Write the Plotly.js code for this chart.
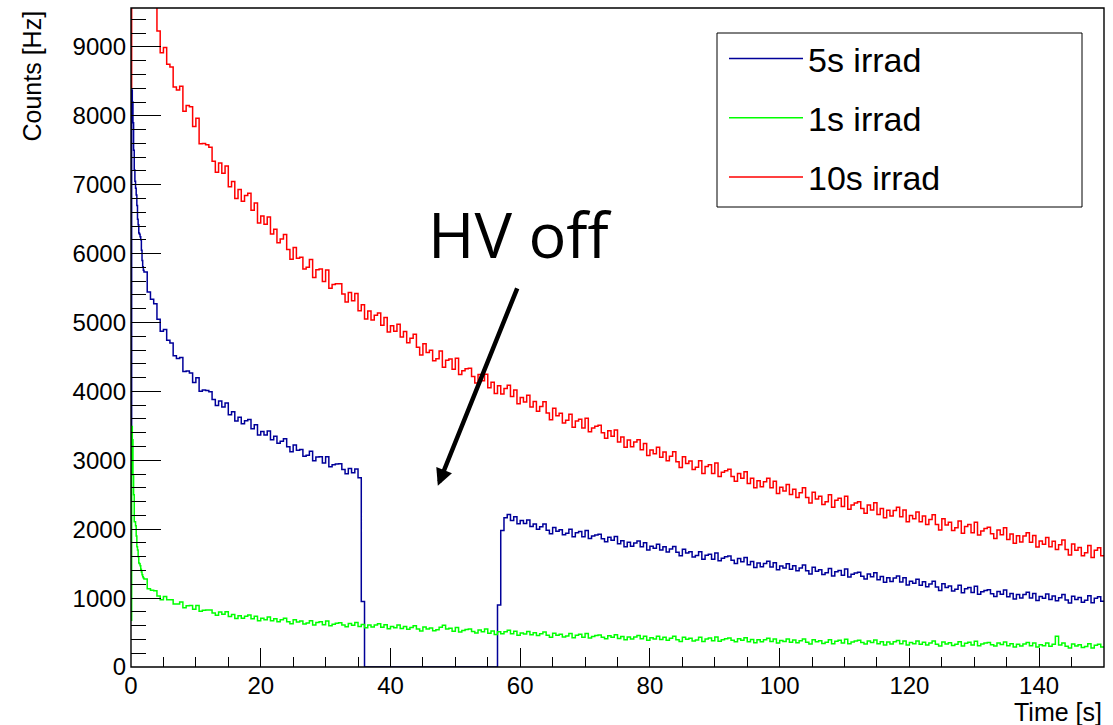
<!DOCTYPE html>
<html>
<head>
<meta charset="utf-8">
<script src="https://cdn.plot.ly/plotly-3.0.1.min.js"></script>
<style>
  html, body { margin: 0; padding: 0; background: #fff; }
  #chart { width: 1113px; height: 725px; }
</style>
</head>
<body>
<div id="chart"></div>
<script>
// ---- bin grid (s): fine bins for the first 2 s, then 0.5 s bins ----
const headStep = 0.1, headBins = 20, mainStart = 2.0, mainStep = 0.5, mainBins = 296, timeEnd = 150;

// ---- series names ----
const seriesNames = ["5s irrad", "1s irrad", "10s irrad"];
const seriesColors = ["#000099", "#00ff00", "#ff0000"];

// ---- 5 s irradiation (Hz) ----
const counts5s = [
  // 0.0 - 1.9 s (0.1 s bins)
  3450, 8375, 8200, 7900, 7500, 7215, 7050, 6950, 6850, 6700,
  6500, 6420, 6300, 6280, 6245, 6200, 6050, 5900, 5810, 5760,
  // 2.0 s onward (0.5 s bins)
  5732, 5444, 5338, 5272, 5048, 4872, 4898, 4744, 4704, 4516,
  4476, 4494, 4288, 4296, 4268, 4130, 4198, 4004, 4020, 4012,
  3996, 3884, 3796, 3860, 3772, 3830, 3662, 3704, 3570, 3626,
  3532, 3574, 3592, 3458, 3516, 3368, 3418, 3366, 3424, 3300,
  3348, 3246, 3277, 3313, 3197, 3123, 3222, 3146, 3156, 3059,
  3074, 3131, 2992, 3049, 3052, 2960, 3052, 2906, 2935, 2948,
  2949, 2866, 2804, 2880, 2818, 2875, 2748, 950, 0, 0,
  0, 0, 0, 0, 0, 0, 0, 0, 0, 0,
  0, 0, 0, 0, 0, 0, 0, 0, 0, 0,
  0, 0, 0, 0, 0, 0, 0, 0, 0, 0,
  0, 0, 0, 0, 0, 0, 0, 0, 0, 900,
  1980, 2168, 2214, 2126, 2182, 2081, 2126, 2082, 2133, 2040,
  2074, 1998, 2036, 2074, 1986, 1934, 2026, 1970, 1993, 1920,
  1942, 2000, 1891, 1950, 1966, 1892, 1981, 1866, 1900, 1917,
  1927, 1863, 1817, 1885, 1839, 1895, 1789, 1833, 1745, 1810,
  1754, 1800, 1829, 1744, 1802, 1698, 1752, 1722, 1783, 1698,
  1744, 1670, 1711, 1749, 1664, 1614, 1708, 1653, 1673, 1597,
  1617, 1673, 1564, 1622, 1638, 1565, 1656, 1543, 1580, 1599,
  1612, 1548, 1502, 1575, 1529, 1588, 1484, 1530, 1445, 1510,
  1454, 1503, 1534, 1451, 1512, 1411, 1466, 1437, 1498, 1418,
  1469, 1398, 1436, 1479, 1396, 1349, 1446, 1388, 1413, 1342,
  1367, 1428, 1321, 1382, 1401, 1330, 1421, 1308, 1345, 1364,
  1377, 1318, 1277, 1350, 1309, 1368, 1266, 1313, 1230, 1295,
  1242, 1290, 1319, 1234, 1294, 1191, 1244, 1214, 1273, 1188,
  1236, 1163, 1204, 1246, 1161, 1112, 1208, 1153, 1176, 1104,
  1127, 1186, 1078, 1137, 1154, 1082, 1171, 1056, 1092, 1109,
  1122, 1063, 1022, 1096, 1056, 1118, 1018, 1068, 986, 1054,
  1002, 1052, 1084, 1003, 1066, 967, 1024, 997, 1060, 979,
  1030, 961, 1006, 1052, 972, 928, 1028, 978, 1007, 940,
  969, 1034, 931, 997, 1020, 954
];

// ---- 1 s irradiation (Hz) ----
const counts1s = [
  680, 3490, 3300, 2790, 2500, 2110, 2110, 2050, 1900, 1745,
  1700, 1600, 1510, 1500, 1470, 1420, 1380, 1340, 1310, 1290,
  1276, 1137, 1114, 1106, 1029, 976, 1024, 977, 977, 913,
  913, 942, 859, 888, 892, 837, 892, 810, 825, 828,
  828, 784, 752, 797, 766, 803, 732, 762, 703, 745,
  707, 738, 756, 699, 738, 670, 706, 686, 726, 670,
  700, 658, 684, 708, 658, 629, 685, 653, 667, 624,
  637, 673, 609, 645, 655, 613, 667, 600, 622, 634,
  643, 609, 586, 630, 607, 645, 588, 618, 570, 610,
  579, 608, 627, 578, 615, 555, 589, 571, 608, 560,
  589, 548, 574, 600, 552, 524, 582, 551, 567, 525,
  540, 576, 606, 550, 562, 520, 575, 509, 531, 543,
  552, 517, 494, 537, 513, 550, 491, 521, 473, 513,
  483, 513, 532, 484, 520, 461, 495, 478, 515, 467,
  497, 456, 483, 508, 460, 433, 491, 461, 477, 436,
  450, 487, 425, 462, 474, 433, 488, 422, 444, 456,
  465, 432, 410, 455, 431, 469, 412, 443, 395, 436,
  407, 437, 457, 410, 448, 390, 425, 408, 446, 399,
  430, 390, 418, 445, 397, 371, 430, 401, 418, 378,
  393, 431, 370, 408, 421, 381, 437, 372, 396, 409,
  420, 387, 365, 410, 387, 425, 368, 399, 353, 394,
  365, 396, 416, 369, 408, 350, 385, 369, 408, 361,
  391, 351, 380, 407, 360, 334, 394, 365, 382, 342,
  359, 397, 336, 374, 388, 348, 404, 339, 364, 377,
  387, 354, 333, 378, 355, 393, 337, 368, 321, 362,
  334, 365, 385, 338, 377, 319, 354, 338, 377, 330,
  361, 321, 350, 377, 330, 304, 364, 335, 352, 312,
  329, 367, 306, 344, 358, 318, 374, 309, 334, 347,
  357, 324, 303, 348, 325, 363, 307, 338, 291, 332,
  304, 335, 355, 308, 347, 289, 324, 308, 347, 300,
  331, 445, 320, 347, 300, 274, 334, 305, 322, 282,
  299, 338, 277, 316, 329, 290
];

// ---- 10 s irradiation (Hz) ----
const counts10s = [
  8400, 12800, 12600, 12400, 12200, 12000, 11850, 11700, 11550, 11400,
  11250, 11100, 10950, 10850, 10750, 10650, 10550, 10450, 10350, 10250,
  10160, 9845, 9815, 9735, 9230, 8915, 8990, 8750, 8710, 8420,
  8375, 8430, 8065, 8150, 8130, 7845, 7965, 7595, 7600, 7580,
  7545, 7340, 7180, 7315, 7165, 7270, 6970, 7045, 6800, 6930,
  6760, 6845, 6875, 6630, 6735, 6445, 6545, 6425, 6530, 6285,
  6352, 6159, 6213, 6277, 6058, 5917, 6088, 5934, 5949, 5776,
  5801, 5914, 5653, 5766, 5778, 5595, 5763, 5499, 5550, 5562,
  5561, 5414, 5296, 5435, 5317, 5420, 5172, 5259, 5050, 5166,
  5038, 5106, 5138, 4962, 5074, 4862, 4952, 4874, 4976, 4790,
  4868, 4706, 4772, 4828, 4642, 4528, 4692, 4566, 4596, 4444,
  4474, 4586, 4352, 4454, 4472, 4320, 4482, 4246, 4300, 4328,
  4337, 4218, 4122, 4245, 4154, 4250, 4054, 4133, 3970, 4082,
  3964, 4043, 4089, 3926, 4022, 3821, 3911, 3847, 3943, 3775,
  3854, 3713, 3781, 3849, 3686, 3589, 3756, 3648, 3683, 3542,
  3580, 3670, 3480, 3570, 3595, 3470, 3610, 3415, 3470, 3495,
  3510, 3400, 3320, 3430, 3350, 3440, 3265, 3340, 3190, 3295,
  3195, 3265, 3300, 3155, 3245, 3070, 3150, 3095, 3190, 3045,
  3120, 2995, 3060, 3125, 2980, 2895, 3050, 2955, 2990, 2865,
  2900, 2995, 2810, 2910, 2935, 2810, 2960, 2765, 2825, 2850,
  2870, 2765, 2695, 2810, 2740, 2835, 2665, 2740, 2600, 2705,
  2615, 2690, 2740, 2600, 2695, 2520, 2610, 2555, 2650, 2505,
  2580, 2460, 2530, 2600, 2460, 2380, 2535, 2440, 2480, 2360,
  2400, 2500, 2320, 2420, 2450, 2330, 2480, 2290, 2350, 2380,
  2400, 2300, 2230, 2350, 2280, 2385, 2215, 2300, 2165, 2275,
  2190, 2270, 2320, 2180, 2280, 2110, 2200, 2150, 2250, 2110,
  2190, 2070, 2140, 2210, 2070, 1990, 2150, 2060, 2100, 1980,
  2020, 2120, 1940, 2040, 2070, 1950, 2100, 1915, 1975, 2010,
  2030, 1935, 1865, 1990, 1920, 2020, 1850, 1930, 1795, 1905,
  1815, 1900, 1950, 1810, 1910, 1740, 1830, 1780, 1880, 1745,
  1825, 1705, 1775, 1845, 1705, 1625, 1785, 1695, 1735, 1615,
  1660, 1765, 1590, 1695, 1730, 1615
];

// ---- axis settings (values) ----
const xRange = [0, 150], yRange = [0, 9565];
const xDtick = 20, xMinor = 5, yDtick = 1000, yMinor = 200;
const xTitle = "Time [s]", yTitle = "Counts [Hz]";
const noteText = "HV off";
const notePos = [60, 6290];
const arrowTip = [47.3, 2630];

// ---- build bin edges (histogram low edges) ----
const time = [];
for (let i = 0; i < headBins; i++) time.push(+(i * headStep).toFixed(2));
for (let i = 0; i < mainBins; i++) time.push(+(mainStart + i * mainStep).toFixed(2));

function histTrace(vals, name, color) {
  const x = time.concat([timeEnd]);
  const y = vals.concat([vals[vals.length - 1]]);
  return {
    type: "scatter", mode: "lines", name: name, x: x, y: y,
    line: { color: color, width: 1.5, shape: "hv" },
    legendgroup: name, hoverinfo: "x+y+name"
  };
}

const data = [
  histTrace(counts5s, seriesNames[0], seriesColors[0]),
  histTrace(counts1s, seriesNames[1], seriesColors[1]),
  histTrace(counts10s, seriesNames[2], seriesColors[2])
];

const W = 1113, H = 725;
const mL = 131, mR = 9, mT = 8, mB = 58;
const pw = W - mL - mR, ph = H - mT - mB;
const px2x = p => (p - mL) / pw;         // paper coordinates from page px
const py2y = p => 1 - (p - mT) / ph;

const fam = "Liberation Sans, Arial, sans-serif";
const tickFont = { family: fam, size: 24, color: "#000" };

const layout = {
  width: W, height: H,
  margin: { l: mL, r: mR, t: mT, b: mB, pad: 0 },
  paper_bgcolor: "#fff", plot_bgcolor: "#fff",
  font: { family: fam, color: "#000" },
  xaxis: {
    range: xRange, showgrid: false, zeroline: false, showline: false,
    ticks: "inside", ticklen: 19, tickwidth: 1, tickcolor: "#000",
    dtick: xDtick, tick0: 0, tickfont: tickFont, ticklabelstandoff: 2,
    minor: { ticks: "inside", ticklen: 10, tickwidth: 1, tickcolor: "#000", dtick: xMinor, showgrid: false }
  },
  yaxis: {
    range: yRange, showgrid: false, zeroline: false, showline: false,
    ticks: "inside", ticklen: 30, tickwidth: 1, tickcolor: "#000",
    dtick: yDtick, tick0: 0, tickfont: tickFont, ticklabelstandoff: 4,
    minor: { ticks: "inside", ticklen: 15, tickwidth: 1, tickcolor: "#000", dtick: yMinor, showgrid: false }
  },
  showlegend: true,
  legend: {
    x: px2x(724), y: py2y(30), xanchor: "left", yanchor: "top",
    bgcolor: "rgba(0,0,0,0)", borderwidth: 0,
    font: { family: fam, size: 34, color: "#000" },
    itemwidth: 74, tracegroupgap: 12, traceorder: "grouped"
  },
  shapes: [
    // frame of the plot area, drawn over the traces
    { type: "rect", xref: "paper", yref: "paper", x0: 0, x1: 1, y0: 0, y1: 1,
      line: { color: "#000", width: 1.4 }, fillcolor: "rgba(0,0,0,0)", layer: "above" },
    // legend box
    { type: "rect", xref: "paper", yref: "paper",
      x0: px2x(717), x1: px2x(1082), y0: py2y(207), y1: py2y(33),
      line: { color: "#000", width: 1 }, fillcolor: "#fff", layer: "below" }
  ],
  annotations: [
    { xref: "paper", yref: "paper", x: 1, y: py2y(712), xanchor: "right", yanchor: "middle",
      text: xTitle, showarrow: false, font: { family: fam, size: 25, color: "#000" } },
    { xref: "paper", yref: "paper", x: px2x(31), y: py2y(9), xanchor: "center", yanchor: "top",
      text: yTitle, textangle: -90, showarrow: false, font: { family: fam, size: 25, color: "#000" } },
    { xref: "x", yref: "y", x: notePos[0], y: notePos[1], xanchor: "center", yanchor: "middle",
      text: noteText, showarrow: false, font: { family: "Open Sans, sans-serif", size: 63, color: "#000" } },
    { xref: "x", yref: "y", x: arrowTip[0], y: arrowTip[1], text: "",
      showarrow: true, arrowhead: 2, arrowsize: 0.75, arrowwidth: 4.5, arrowcolor: "#000",
      ax: 80, ay: -199, axref: "pixel", ayref: "pixel" }
  ]
};

Plotly.newPlot("chart", data, layout, { displayModeBar: false, staticPlot: true });
</script>
</body>
</html>
